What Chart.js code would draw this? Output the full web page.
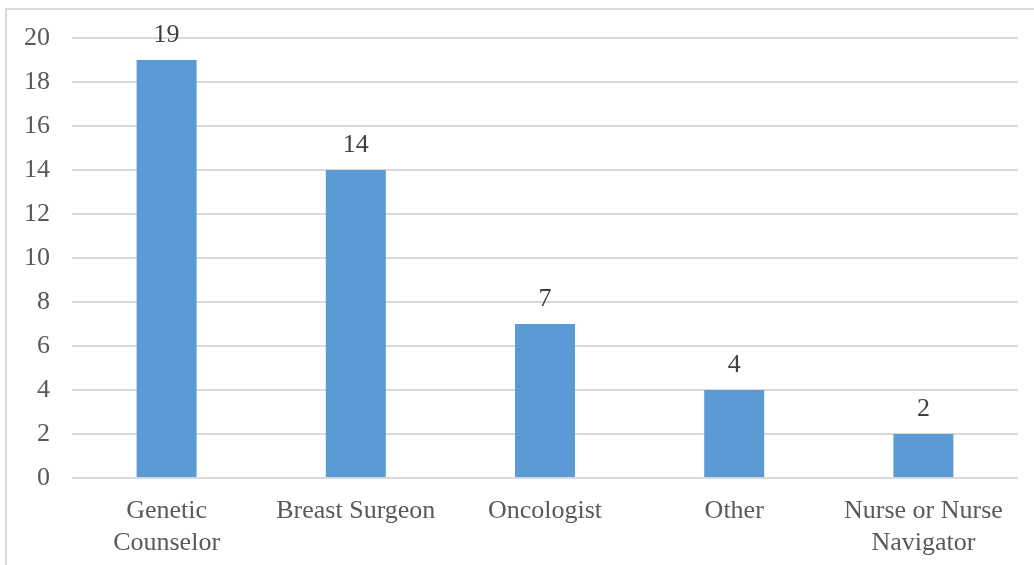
<!DOCTYPE html>
<html>
<head>
<meta charset="utf-8">
<script src="https://cdn.jsdelivr.net/npm/chart.js@4/dist/chart.umd.min.js"></script>
<style>
  html, body { margin: 0; padding: 0; background: #ffffff; overflow: hidden; }
  #frame { position: absolute; left: 5px; top: 8px; width: 1100px; height: 640px; border: 2px solid #d9d9d9; box-sizing: border-box; pointer-events: none; }
  #wrap { position: absolute; left: 0; top: 0; width: 1034px; height: 565px; }
</style>
</head>
<body>
<div id="frame"></div>
<div id="wrap"><canvas id="c" width="1034" height="565"></canvas></div>
<script>
const categories = [["Genetic", "Counselor"], "Breast Surgeon", "Oncologist", "Other", ["Nurse or Nurse", "Navigator"]];
const counts = [19, 14, 7, 4, 2];
const yTicks = [0, 2, 4, 6, 8, 10, 12, 14, 16, 18, 20];

const FONT = "'Liberation Serif', 'Times New Roman', serif";

const valueLabels = {
  id: 'valueLabels',
  afterDatasetsDraw(chart) {
    const ctx = chart.ctx;
    const meta = chart.getDatasetMeta(0);
    ctx.save();
    ctx.font = '26px ' + FONT;
    ctx.fillStyle = '#404040';
    ctx.textAlign = 'center';
    ctx.textBaseline = 'alphabetic';
    meta.data.forEach((bar, i) => {
      ctx.fillText(String(chart.data.datasets[0].data[i]), bar.x, bar.y - 18);
    });
    ctx.restore();
  }
};

new Chart(document.getElementById('c'), {
  type: 'bar',
  data: {
    labels: categories,
    datasets: [{
      data: counts,
      backgroundColor: '#5b9bd5',
      borderWidth: 0,
      categoryPercentage: 1,
      barPercentage: 0.317
    }]
  },
  options: {
    responsive: false,
    animation: false,
    devicePixelRatio: 1,
    layout: { padding: { top: 38, right: 16, left: 0, bottom: 0 } },
    plugins: { legend: { display: false }, tooltip: { enabled: false } },
    scales: {
      x: {
        grid: { display: false, drawTicks: false },
        border: { display: false },
        ticks: {
          color: '#595959',
          font: { family: FONT, size: 26, lineHeight: 1.2 },
          padding: 18,
          maxRotation: 0,
          autoSkip: false
        },
        afterFit(axis) { axis.height = 87; }
      },
      y: {
        min: 0,
        max: 20,
        afterBuildTicks(axis) { axis.ticks = yTicks.map(v => ({ value: v })); },
        grid: { color: '#d9d9d9', lineWidth: 2, drawTicks: false },
        border: { display: false },
        ticks: {
          color: '#595959',
          font: { family: FONT, size: 26 },
          padding: 22
        },
        afterFit(axis) { axis.width = 72; }
      }
    }
  },
  plugins: [valueLabels]
});
</script>
</body>
</html>
